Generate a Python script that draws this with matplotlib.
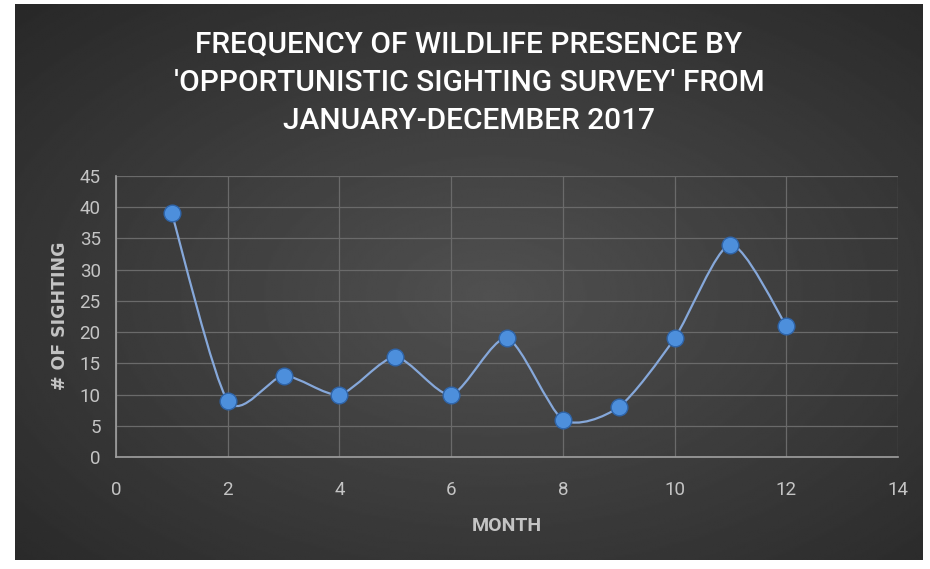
import numpy as np
import matplotlib
matplotlib.use("Agg")
import matplotlib.pyplot as plt
from matplotlib import font_manager
from matplotlib.path import Path
from matplotlib.patches import PathPatch

# data
months = [1, 2, 3, 4, 5, 6, 7, 8, 9, 10, 11, 12]
sightings = [39, 9, 13, 10, 16, 10, 19, 6, 8, 19, 34, 21]
x_ticks = [0, 2, 4, 6, 8, 10, 12, 14]
y_ticks = [0, 5, 10, 15, 20, 25, 30, 35, 40, 45]
title = ("FREQUENCY OF WILDLIFE PRESENCE BY\n"
         "'OPPORTUNISTIC SIGHTING SURVEY' FROM\n"
         "JANUARY-DECEMBER 2017")

have = {f.name for f in font_manager.fontManager.ttflist}
FONT = [n for n in ("Roboto",) if n in have] + ["DejaVu Sans"]
TXT = "#c4c4c4"

W, H = 930, 569
fig = plt.figure(figsize=(W / 100, H / 100), dpi=100)
fig.patch.set_facecolor("white")

# dark radial background of the chart area
bx0, by0, bx1, by1 = 15, 4, 922, 560
bg = fig.add_axes([bx0 / W, 1 - by1 / H, (bx1 - bx0) / W, (by1 - by0) / H])
gy, gx = np.mgrid[-1:1:300j, -1:1:480j]
r = np.sqrt((gx - 0.05) ** 2 + (gy - 0.05) ** 2) / np.sqrt(2)
bg.imshow(0.315 - 0.15 * r, cmap="gray", vmin=0, vmax=1, aspect="auto",
          extent=[0, 1, 0, 1], interpolation="bilinear")
bg.set_axis_off()

# plot area: x 0..14 -> px 116..898, y 0..45 -> px 457..176
px0, px1, py0, py1 = 116, 898, 457, 176
ax = fig.add_axes([px0 / W, 1 - py0 / H, (px1 - px0) / W, (py0 - py1) / H])
ax.set_facecolor("none")
ax.set_xlim(0, 14)
ax.set_ylim(0, 45)
ax.set_xticks(x_ticks)
ax.set_yticks(y_ticks)
ax.grid(True, color="#6a6a6a", linewidth=0.9)
ax.set_axisbelow(True)
for s in ("top", "right"):
    ax.spines[s].set_visible(False)
for s in ("left", "bottom"):
    ax.spines[s].set_color("#a0a0a0")
    ax.spines[s].set_linewidth(1.2)
ax.tick_params(length=0, colors=TXT, labelsize=13.5)
ax.tick_params(axis="x", pad=17)
ax.tick_params(axis="y", pad=11)
for lab in ax.get_xticklabels() + ax.get_yticklabels():
    lab.set_family(FONT)

# smoothed line through the data points (bezier, low tension like Excel)
x = np.asarray(months, float)
y = np.asarray(sightings, float)
verts = [(x[0], y[0])]
codes = [Path.MOVETO]
t = 1 / 8
for i in range(len(x) - 1):
    p0 = (x[i - 1], y[i - 1]) if i > 0 else (x[i], y[i])
    p3 = (x[i + 2], y[i + 2]) if i + 2 < len(x) else (x[i + 1], y[i + 1])
    c1 = (x[i] + (x[i + 1] - p0[0]) * t, y[i] + (y[i + 1] - p0[1]) * t)
    c2 = (x[i + 1] - (p3[0] - x[i]) * t, y[i + 1] - (p3[1] - y[i]) * t)
    verts += [c1, c2, (x[i + 1], y[i + 1])]
    codes += [Path.CURVE4] * 3
ax.add_patch(PathPatch(Path(verts, codes), facecolor="none",
                       edgecolor="#86a8da", linewidth=1.6, zorder=3))
ax.plot(months, sightings, linestyle="none", marker="o", markersize=12,
        markerfacecolor="#4d8fdc", markeredgecolor="#2f64a8",
        markeredgewidth=1, zorder=4)

fig.text(469 / W, 1 - 83 / H, title, ha="center", va="center", color="white",
         fontsize=21.5, fontweight="medium", family=FONT, linespacing=1.47)
fig.text(507 / W, 1 - 526 / H, "MONTH", ha="center", va="center",
         color=TXT, fontsize=14, fontweight="bold", family=FONT)
fig.text(60 / W, 1 - 316 / H, "# OF SIGHTING", ha="center", va="center",
         color=TXT, fontsize=12.5, fontweight="bold", rotation=90,
         family=["DejaVu Sans"])

fig.savefig("out.png", dpi=100, facecolor=fig.get_facecolor())
